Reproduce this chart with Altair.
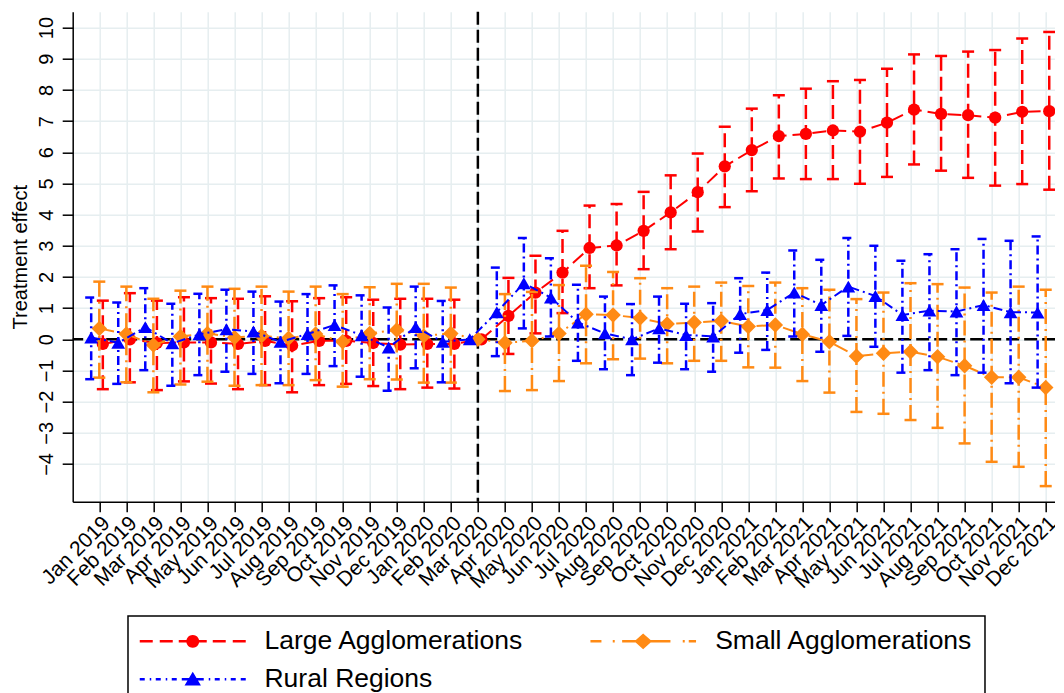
import json
import math
import altair as alt
import pandas as pd

# ---------------- data ----------------
months = [
    "Jan 2019", "Feb 2019", "Mar 2019", "Apr 2019", "May 2019", "Jun 2019",
    "Jul 2019", "Aug 2019", "Sep 2019", "Oct 2019", "Nov 2019", "Dec 2019",
    "Jan 2020", "Feb 2020", "Mar 2020", "Apr 2020", "May 2020", "Jun 2020",
    "Jul 2020", "Aug 2020", "Sep 2020", "Oct 2020", "Nov 2020", "Dec 2020",
    "Jan 2021", "Feb 2021", "Mar 2021", "Apr 2021", "May 2021", "Jun 2021",
    "Jul 2021", "Aug 2021", "Sep 2021", "Oct 2021", "Nov 2021", "Dec 2021",
]
event_month = "Mar 2020"
y_ticks = [-4, -3, -2, -1, 0, 1, 2, 3, 4, 5, 6, 7, 8, 9, 10]

series_names = ["Large Agglomerations", "Small Agglomerations", "Rural Regions"]
series_colors = ["#FF0000", "#FF8A14", "#0000FF"]

large_est = [-0.15, 0.00, -0.12, -0.10, -0.10, -0.15, -0.05, -0.20, -0.05, -0.05, -0.12, -0.17, -0.15, -0.15, 0.00,
             0.75, 1.50, 2.14, 2.93, 3.01, 3.48, 4.07, 4.72, 5.55, 6.07, 6.52, 6.59, 6.70, 6.66, 6.95, 7.37, 7.23, 7.19, 7.11, 7.30, 7.32]
large_hi = [1.24, 1.48, 1.24, 1.35, 1.32, 1.30, 1.38, 1.22, 1.32, 1.35, 1.27, 1.30, 1.30, 1.27, None,
            1.97, 2.68, 3.48, 4.29, 4.34, 4.73, 5.26, 5.96, 6.82, 7.40, 7.83, 8.04, 8.28, 8.32, 8.68, 9.14, 9.09, 9.23, 9.28, 9.65, 9.86]
large_lo = [-1.60, -1.38, -1.63, -1.35, -1.42, -1.60, -1.47, -1.70, -1.47, -1.43, -1.50, -1.60, -1.55, -1.58, None,
            -0.47, 0.19, 0.84, 1.64, 1.73, 2.25, 2.89, 3.46, 4.24, 4.75, 5.16, 5.14, 5.14, 4.99, 5.21, 5.61, 5.41, 5.18, 4.93, 4.98, 4.80]

small_est = [0.35, 0.17, -0.18, 0.09, 0.19, 0.06, 0.11, 0.03, 0.17, -0.08, 0.19, 0.30, 0.11, 0.19, 0.00,
             -0.11, -0.05, 0.19, 0.80, 0.78, 0.68, 0.49, 0.54, 0.59, 0.41, 0.46, 0.16, -0.08, -0.54, -0.45, -0.40, -0.56, -0.85, -1.22, -1.22, -1.55]
small_hi = [1.85, 1.69, 1.30, 1.56, 1.69, 1.62, 1.69, 1.53, 1.69, 1.45, 1.67, 1.78, 1.78, 1.66, None,
            1.45, 1.52, 1.74, 2.36, 2.16, 1.96, 1.64, 1.69, 1.82, 1.71, 1.82, 1.64, 1.59, 1.29, 1.50, 1.80, 1.77, 1.66, 1.50, 1.69, 1.59]
small_lo = [-1.23, -1.38, -1.70, -1.45, -1.36, -1.49, -1.47, -1.47, -1.31, -1.52, -1.28, -1.29, -1.39, -1.39, None,
            -1.66, -1.63, -1.34, -0.77, -0.64, -0.62, -0.77, -0.69, -0.69, -0.90, -0.91, -1.34, -1.71, -2.33, -2.39, -2.59, -2.84, -3.34, -3.93, -4.09, -4.71]

rural_est = [0.06, -0.11, 0.39, -0.13, 0.16, 0.32, 0.25, -0.08, 0.17, 0.46, 0.13, -0.26, 0.39, -0.08, 0.00,
             0.87, 1.80, 1.34, 0.54, 0.19, 0.00, 0.35, 0.14, 0.09, 0.81, 0.94, 1.50, 1.10, 1.69, 1.39, 0.78, 0.92, 0.89, 1.10, 0.87, 0.86]
rural_hi = [1.34, 1.18, 1.64, 1.14, 1.46, 1.59, 1.53, 1.21, 1.45, 1.73, 1.41, 1.02, 1.69, 1.23, None,
            2.30, 3.25, 2.60, 1.75, 1.37, 1.13, 1.37, 1.14, 1.16, 1.96, 2.14, 2.85, 2.55, 3.25, 3.00, 2.52, 2.73, 2.89, 3.22, 3.16, 3.30]
rural_lo = [-1.28, -1.43, -0.99, -1.49, -1.15, -1.04, -1.11, -1.41, -1.11, -0.86, -1.20, -1.65, -0.93, -1.38, None,
            -0.54, 0.35, 0.09, -0.69, -0.96, -1.15, -0.75, -0.96, -1.04, -0.43, -0.34, 0.09, -0.40, 0.11, -0.24, -1.07, -0.99, -1.15, -1.07, -1.41, -1.55]

# ---------------- styles ----------------
FONT = "Liberation Sans"
dodge = {"Large Agglomerations": 0.13, "Small Agglomerations": 0.0, "Rural Regions": -0.3}
dash = {"Large Agglomerations": [14, 6], "Small Agglomerations": [15, 5, 2, 5], "Rural Regions": [9, 4, 2, 4]}
shape = {"Large Agglomerations": "circle", "Small Agglomerations": "diamond", "Rural Regions": "triangle-up"}
msize = {"Large Agglomerations": 150, "Small Agglomerations": 240, "Rural Regions": 190}
col = dict(zip(series_names, series_colors))

values = {
    "Large Agglomerations": (large_est, large_lo, large_hi),
    "Small Agglomerations": (small_est, small_lo, small_hi),
    "Rural Regions": (rural_est, rural_lo, rural_hi),
}
rows = []
for s in series_names:
    e, lo, hi = values[s]
    for i, m in enumerate(months):
        rows.append({"series": s, "month": m, "idx": i, "est": e[i], "lo": lo[i], "hi": hi[i]})
df = pd.DataFrame(rows)
df["pos"] = df["idx"] + df["series"].map(dodge)

xscale = alt.Scale(domain=[-0.984, 35.35], nice=False, zero=False)
yscale = alt.Scale(domain=[-5.21, 10.51], nice=False, zero=False)
label_expr = json.dumps(months) + "[datum.value]"
xaxis = alt.Axis(values=list(range(len(months))), labelExpr=label_expr, title=None, grid=True,
                 tickSize=10, labelAngle=-45, labelAlign="right", labelBaseline="middle",
                 labelOffset=7, labelPadding=8, labelFontSize=21, labelOverlap=False, labelFlush=False)
yaxis = alt.Axis(values=y_ticks, title="Treatment effect", grid=True, tickSize=10.5,
                 labelAngle=-90, labelAlign="center", labelBaseline="alphabetic", labelPadding=9.5,
                 labelFontSize=20, titleFontSize=20, titleFontWeight="normal", titleAngle=-90,
                 titleX=-45.7, titleY=245, titleAlign="center", titleBaseline="alphabetic")


def X():
    return alt.X("pos:Q", scale=xscale, axis=xaxis)


def Y(field):
    return alt.Y(f"{field}:Q", scale=yscale, axis=yaxis)


layers = []
layers.append(alt.Chart(pd.DataFrame({"est": [0.0]})).mark_rule(
    color="black", strokeWidth=2.5, strokeDash=[13, 5]).encode(y=Y("est")))
layers.append(alt.Chart(pd.DataFrame({"pos": [months.index(event_month)]})).mark_rule(
    color="black", strokeWidth=2.5, strokeDash=[13, 5]).encode(x=X()))

for s in series_names:
    base = alt.Chart(df).transform_filter(alt.datum.series == s)
    d, c = dash[s], col[s]
    layers.append(base.mark_rule(strokeWidth=2.5, strokeDash=d, color=c).encode(
        x=X(), y=Y("lo"), y2="hi:Q"))
    for f in ("lo", "hi"):
        layers.append(base.mark_rule(strokeWidth=2.5, strokeDash=d, color=c, xOffset=-6, x2Offset=6).encode(
            x=X(), x2="pos:Q", y=Y(f)))
    layers.append(base.mark_line(strokeWidth=2, strokeDash=d, color=c).encode(
        x=X(), y=Y("est"), order="idx:Q"))
    layers.append(base.mark_point(shape=shape[s], filled=True, size=msize[s], opacity=1, strokeWidth=0,
                                  color=c).encode(x=X(), y=Y("est")))

# ---------------- legend symbols (line + marker) ----------------
U = 6.5  # px per path unit = sqrt(symbolSize)/2


def _u(px):
    return px / U - 1.0


def _segs(segs):
    return " ".join(f"M{_u(a):.3f} 0 L{_u(b):.3f} 0" for a, b in segs)


def _circle(cx, r):
    c, rr = _u(cx), r / U
    pts = [(c + rr * math.cos(2 * math.pi * k / 24), rr * math.sin(2 * math.pi * k / 24)) for k in range(24)]
    return " M" + " L".join(f"{px:.3f} {py:.3f}" for px, py in pts) + " Z"


def _diamond(cx, hw, hh):
    c, w, h = _u(cx), hw / U, hh / U
    return f" M{c - w:.3f} 0 L{c:.3f} {-h:.3f} L{c + w:.3f} 0 L{c:.3f} {h:.3f} Z"


def _triangle(cx, hw, hh):
    c, w, h = _u(cx), hw / U, hh / U
    return f" M{c:.3f} {-h:.3f} L{c + w:.3f} {h:.3f} L{c - w:.3f} {h:.3f} Z"


legend_paths = [
    _segs([(0, 13), (20, 33), (39, 67), (73, 86), (93, 106)]) + _circle(53, 5.2),
    _segs([(0, 11), (22.3, 24.3), (31.7, 47.7), (57.7, 80), (92.3, 94.3), (98.3, 105.6)]) + _diamond(52.7, 7, 6.3),
    _segs([(0, 5), (10, 11.5), (16, 21), (26, 27.5), (32, 37), (42, 64), (69, 70.5), (75, 80),
           (85, 86.5), (91, 96), (101, 106)]) + _triangle(53, 6, 5),
]

NBSP4 = "\u00a0" * 4
leg = alt.Legend(title=None, orient="none", legendX=55.3, legendY=604.3, columns=2, direction="horizontal",
                 values=series_names,
                 columnPadding=60.7, rowPadding=11, padding=12, strokeColor="black", fillColor="white",
                 labelFont=FONT, labelFontSize=26.5, labelColor="black", labelOffset=105, labelLimit=1000,
                 symbolOffset=-7, symbolSize=169, symbolStrokeWidth=2.5,
                 labelExpr="datum.label == 'Small Agglomerations' ? datum.label + '" + NBSP4 + "' : datum.label")
legend_df = pd.DataFrame({"series": series_names})
legend_layer = alt.Chart(legend_df).mark_point(filled=True, opacity=1, clip=True).encode(
    x=alt.X(datum=-50, scale=xscale, axis=xaxis),
    y=alt.Y(datum=-50, scale=yscale, axis=yaxis),
    fill=alt.Fill("series:N", scale=alt.Scale(domain=series_names, range=series_colors), legend=leg),
    stroke=alt.Stroke("series:N", scale=alt.Scale(domain=series_names, range=series_colors), legend=leg),
    shape=alt.Shape("series:N", scale=alt.Scale(domain=series_names, range=legend_paths), legend=leg),
)
layers.append(legend_layer)

chart = alt.layer(*layers).properties(
    width=982.5, height=490,
    padding={"left": 64.7, "top": 3.7, "right": 0, "bottom": 191.3},
    autosize=alt.AutoSizeParams(type="none"),
).configure_view(stroke=None).configure_axis(
    domainColor="black", domainWidth=1.5, tickColor="black", tickWidth=1.5,
    labelColor="black", titleColor="black", labelFont=FONT, titleFont=FONT,
    gridColor="#E6EEF0", gridWidth=1.5,
).configure_legend(strokeWidth=1.5, cornerRadius=0)

chart.save("out.html", embed_options={"renderer": "svg", "actions": False})
